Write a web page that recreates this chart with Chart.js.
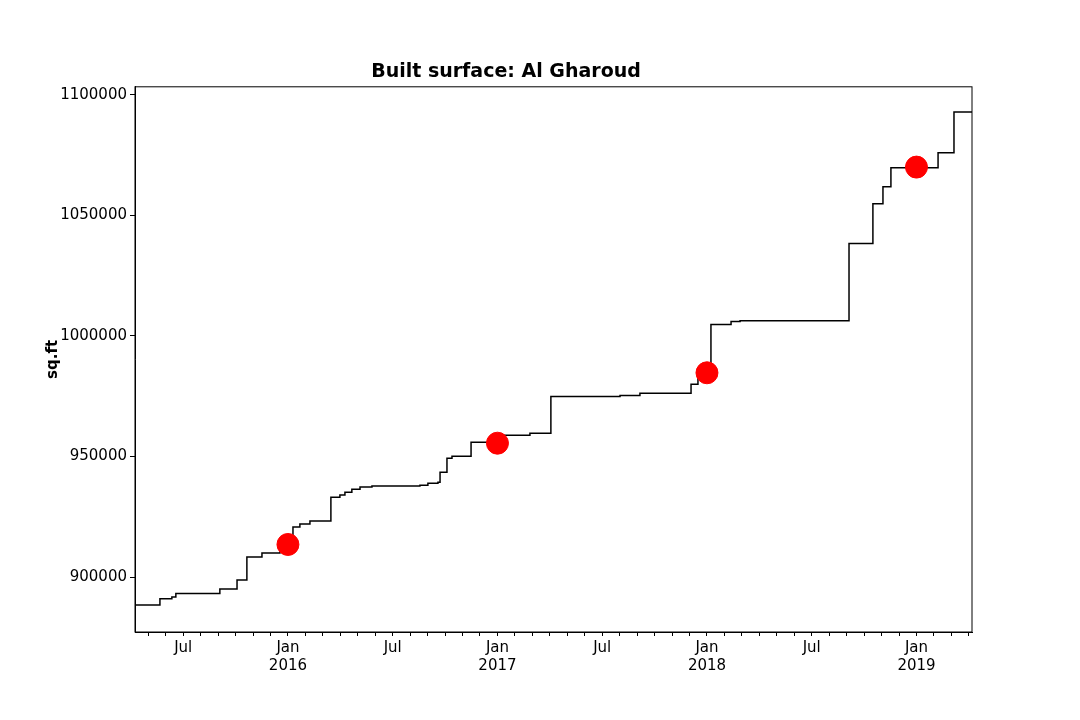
<!DOCTYPE html>
<html>
<head>
<meta charset="utf-8">
<script src="https://cdn.jsdelivr.net/npm/chart.js@4"></script>
<style>
  body { margin: 0; background: #fff; }
  #wrap { width: 1080px; height: 720px; }
</style>
</head>
<body>
<div id="wrap"><canvas id="chartCanvas"></canvas></div>
<script>
// step dates as decimal years, value holds from that date on
const stepDates = [2015.270, 2015.389, 2015.446, 2015.465, 2015.675, 2015.757, 2015.804, 2015.876, 2015.962,
    2016.024, 2016.057, 2016.105, 2016.205, 2016.248, 2016.272, 2016.305, 2016.344, 2016.401, 2016.630,
    2016.668, 2016.716, 2016.726, 2016.759, 2016.783, 2016.874, 2017.012, 2017.155, 2017.255, 2017.585,
    2017.680, 2017.924, 2017.957, 2018.019, 2018.115, 2018.158, 2018.678, 2018.792, 2018.840, 2018.878,
    2019.103, 2019.179, 2019.265];
const stepValues = [888400, 891000, 891700, 893200, 895000, 898800, 908300, 910000, 911000,
    920700, 922000, 923200, 933100, 934000, 935200, 936400, 937300, 937700, 938100,
    938900, 939300, 943500, 949300, 950100, 955900, 958800, 959600, 974900, 975300,
    976200, 979900, 985300, 1004700, 1006000, 1006300, 1038300, 1054800, 1061900, 1069700,
    1076000, 1092900, 1092900];

// red markers at each new year
const markerDates = [2016, 2017, 2018, 2019];
const markerValues = [913500, 955500, 984700, 1070000];

const yTicks = [900000, 950000, 1000000, 1050000, 1100000];

const frame = {
    id: 'frame',
    afterDraw(chart) {
        const a = chart.chartArea, c = chart.ctx;
        c.save();
        c.strokeStyle = '#000';
        c.lineWidth = 1;
        c.strokeRect(a.left, a.top, a.right - a.left, a.bottom - a.top);
        c.restore();
    }
};

const ctx = document.getElementById('chartCanvas').getContext('2d');
new Chart(ctx, {
    type: 'line',
    data: {
        datasets: [{
            data: stepDates.map((d, i) => ({ x: d, y: stepValues[i] })),
            borderColor: '#000',
            borderWidth: 1.5,
            pointRadius: 0,
            stepped: 'before',
            order: 2
        }, {
            data: markerDates.map((d, i) => ({ x: d, y: markerValues[i] })),
            showLine: false,
            pointRadius: 11,
            pointBackgroundColor: 'red',
            pointBorderColor: 'red',
            order: 1
        }]
    },
    options: {
        responsive: true,
        maintainAspectRatio: false,
        animation: false,
        layout: { padding: { left: 40, right: 108, top: 0, bottom: 0 } },
        plugins: {
            legend: { display: false },
            tooltip: { enabled: false },
            title: {
                display: true,
                text: 'Built surface: Al Gharoud',
                color: '#000',
                font: { family: 'DejaVu Sans', size: 19, weight: 'bold' },
                padding: { top: 61, bottom: 3 }
            }
        },
        scales: {
            x: {
                type: 'linear',
                min: 2015.270,
                max: 2019.265,
                afterBuildTicks(scale) {
                    const t = [];
                    for (let m = 0; m < 60; m++) {
                        const v = 2015 + m / 12;
                        if (v > scale.min && v < scale.max) t.push({ value: v });
                    }
                    scale.ticks = t;
                },
                afterFit(scale) { scale.height = 88; },
                ticks: {
                    autoSkip: false,
                    maxRotation: 0,
                    color: '#000',
                    font: { family: 'DejaVu Sans', size: 15 },
                    callback(v) {
                        const m = Math.round((v - 2015) * 12);
                        if (m % 12 === 0) return ['Jan', String(2015 + m / 12)];
                        if (m % 12 === 6) return 'Jul';
                        return '';
                    }
                },
                grid: { drawOnChartArea: false, color: '#000', tickLength: 4 },
                border: { color: '#000' }
            },
            y: {
                min: 877200,
                max: 1103300,
                afterBuildTicks(scale) { scale.ticks = yTicks.map(v => ({ value: v })); },
                afterFit(scale) { scale.width = 95; },
                ticks: {
                    color: '#000',
                    font: { family: 'DejaVu Sans', size: 15 },
                    callback: v => String(v)
                },
                title: {
                    display: true,
                    text: 'sq.ft',
                    color: '#000',
                    font: { family: 'DejaVu Sans', size: 15, weight: 'bold' }
                },
                grid: { drawOnChartArea: false, color: '#000', tickLength: 5 },
                border: { color: '#000' }
            }
        }
    },
    plugins: [frame]
});
</script>
</body>
</html>
